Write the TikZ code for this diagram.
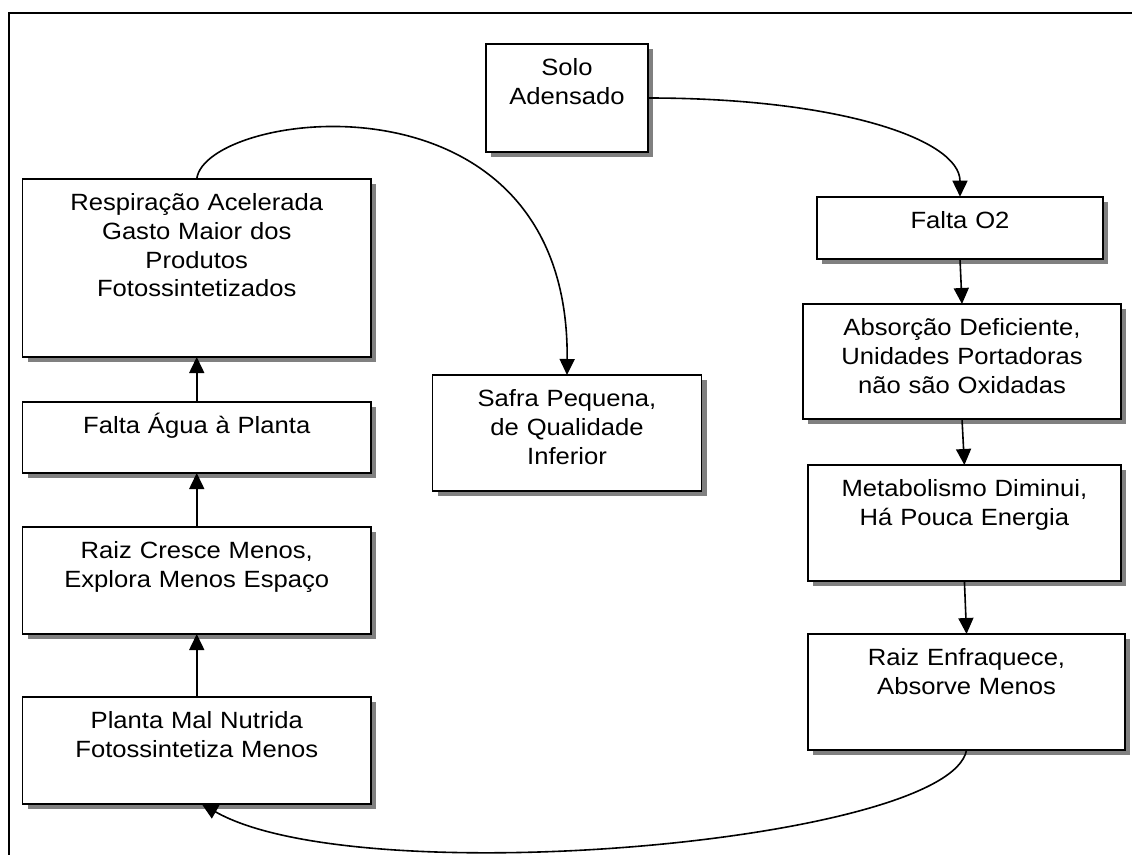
\documentclass[tikz,border=0pt]{standalone}
\usepackage{fontspec}
\setmainfont{Liberation Sans}[FakeStretch=1.09]
\usetikzlibrary{arrows.meta,shadows}

\begin{document}
\begin{tikzpicture}[x=1pt,y=-1pt,
  caixa/.style={draw,line width=1.9pt,fill=white,inner sep=0pt,outer sep=0pt,
    anchor=north west,align=center,font=\fontsize{23.5}{28.7}\selectfont,
    text height=31.8pt,
    drop shadow={shadow xshift=5pt,shadow yshift=-5pt,fill=black!50,opacity=1}},
  seta/.style={line width=1.6pt,-{Triangle[length=16pt,width=15pt]}}]
\useasboundingbox (0,0) rectangle (1132,854);
\draw[line width=1.6pt] (1140,13) -- (8.7,13) -- (8.7,860);

% coluna da direita
\node[caixa,text width=162pt,text depth=76.2pt] (solo) at (486,44) {Solo\\Adensado};
\node[caixa,text width=286.6pt,text depth=30.8pt] (falta) at (816.7,196.7) {Falta O2};
\node[caixa,text width=317.4pt,text depth=83.2pt] (absorcao) at (803.3,304) {Absorção Deficiente,\\Unidades Portadoras\\não são Oxidadas};
\node[caixa,text width=313pt,text depth=84.2pt] (metab) at (807.9,465) {Metabolismo Diminui,\\Há Pouca Energia};
\node[caixa,text width=317.3pt,text depth=84.2pt] (enfraq) at (807.9,634) {Raiz Enfraquece,\\Absorve Menos};

% coluna da esquerda
\node[caixa,text width=348.5pt,text depth=75.2pt] (planta) at (22.5,697) {Planta Mal Nutrida\\Fotossintetiza Menos};
\node[caixa,text width=348.5pt,text depth=75.2pt] (cresce) at (22.5,527) {Raiz Cresce Menos,\\Explora Menos Espaço};
\node[caixa,text width=348.5pt,text depth=39.2pt] (agua) at (22.5,402) {Falta Água à Planta};
\node[caixa,text width=348.5pt,text depth=146.2pt] (resp) at (22.5,179) {Respiração Acelerada\\Gasto Maior dos\\Produtos\\Fotossintetizados};

\node[caixa,text width=269pt,text depth=84.2pt] (safra) at (432.5,375) {Safra Pequena,\\de Qualidade\\Inferior};

\draw[seta] (solo.east) .. controls +(192,0) and +(0,-57) .. (falta.north);
\draw[seta] (falta.south) -- (absorcao.north);
\draw[seta] (absorcao.south) -- (metab.north);
\draw[seta] (metab.south) -- (enfraq.north);
\draw[seta] (enfraq.south) .. controls +(-16.5,92) and +(158,90) .. ([xshift=5pt]planta.south);
\draw[seta] (planta.north) -- (cresce.south);
\draw[seta] (cresce.north) -- (agua.south);
\draw[seta] (agua.north) -- (resp.south);
\draw[seta] (resp.north) .. controls +(8,-69) and +(3,-315) .. (safra.north);
\end{tikzpicture}
\end{document}
